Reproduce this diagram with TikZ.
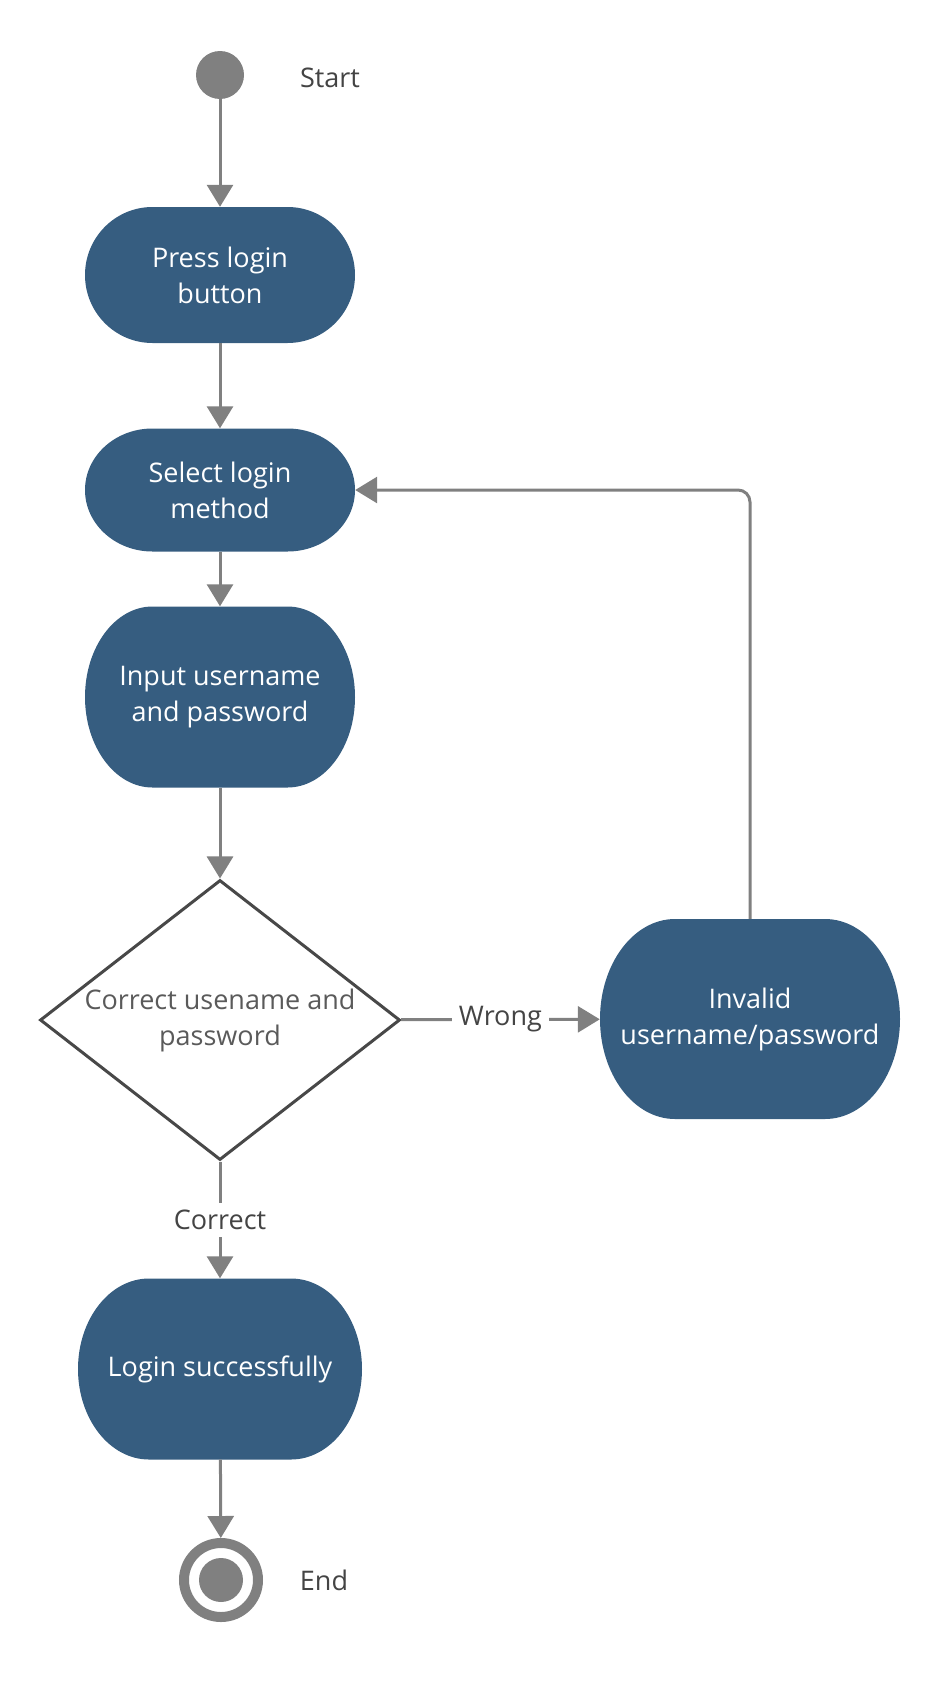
\documentclass[tikz,border=0pt]{standalone}
\usepackage{fontspec}
\setmainfont{Open Sans}
\usetikzlibrary{shapes.geometric,arrows.meta,calc}
\definecolor{actblue}{RGB}{54,93,128}
\definecolor{linegray}{RGB}{128,128,128}
\definecolor{edgegray}{RGB}{72,72,72}
\definecolor{labelgray}{RGB}{68,68,68}
\definecolor{diatext}{RGB}{90,90,90}
\begin{document}
\begin{tikzpicture}[x=1pt, y=1pt,
		every node/.style={font=\fontsize{27}{36}\selectfont},
		flow/.style={draw=linegray, line width=3pt, -{Triangle[width=26pt, length=22pt]}},
		act/.style 2 args={rectangle, inner sep=0pt, minimum width=#1, minimum height=#2, fill=white, text=white, align=center,
			path picture={\fill[actblue] let \p1=(path picture bounding box.south west), \p2=(path picture bounding box.north east),
				\n1={0.25*(\x2-\x1)}, \n2={0.5*(\y2-\y1)} in
				(\x1+\n1,\y2) -- (\x2-\n1,\y2) arc[start angle=90, end angle=-90, x radius=\n1*1pt, y radius=\n2*1pt]
				-- (\x1+\n1,\y1) arc[start angle=270, end angle=90, x radius=\n1*1pt, y radius=\n2*1pt] -- cycle;}},
		check/.style={diamond, aspect=1.3, draw=edgegray, line width=3pt, minimum width=360pt, minimum height=280pt, inner sep=0pt, text=diatext, align=center},
		startdot/.style={circle, fill=linegray, minimum size=48pt, inner sep=0pt},
		enddot/.style={circle, draw=linegray, line width=10pt, minimum size=74pt, inner sep=0pt,
			path picture={\fill[linegray] (path picture bounding box.center) circle[radius=22pt];}},
		lbl/.style={text=labelgray},
		edgelbl/.style={fill=white, text=labelgray, inner sep=7pt}]
		\useasboundingbox (0, 0) rectangle (940, -1689);
		\node[startdot] (start) at (220, -75) {};
		\node[lbl] (startlbl) at (330, -78) {Start};
		\node[act={270pt}{136pt}] (press) at (220, -275) {Press login\\button};
		\node[act={270pt}{123pt}] (select) at (220, -490) {Select login\\method};
		\node[act={270pt}{181pt}] (input) at (220, -697) {Input username\\and password};
		\node[check] (decide) at (220, -1020) {Correct usename and\\password};
		\node[act={300pt}{200pt}] (invalid) at (750, -1019) {Invalid\\username/password};
		\node[act={284pt}{181pt}] (success) at (220, -1369) {Login successfully};
		\node[enddot] (end) at (221, -1580) {};
		\node[lbl] (endlbl) at (324, -1580) {End};
		\draw[flow] (start) -- (press);
		\draw[flow] (press) -- (select);
		\draw[flow] (select) -- (input);
		\draw[flow] (input) -- (decide);
		\draw[flow] (decide) -- node[edgelbl] {Wrong} (invalid);
		\draw[flow] (decide) -- node[edgelbl] {Correct} (success);
		\draw[flow] (success) -- (end);
		\draw[flow, rounded corners=12pt] (invalid.north) |- (select.east);
	\end{tikzpicture}
\end{document}
